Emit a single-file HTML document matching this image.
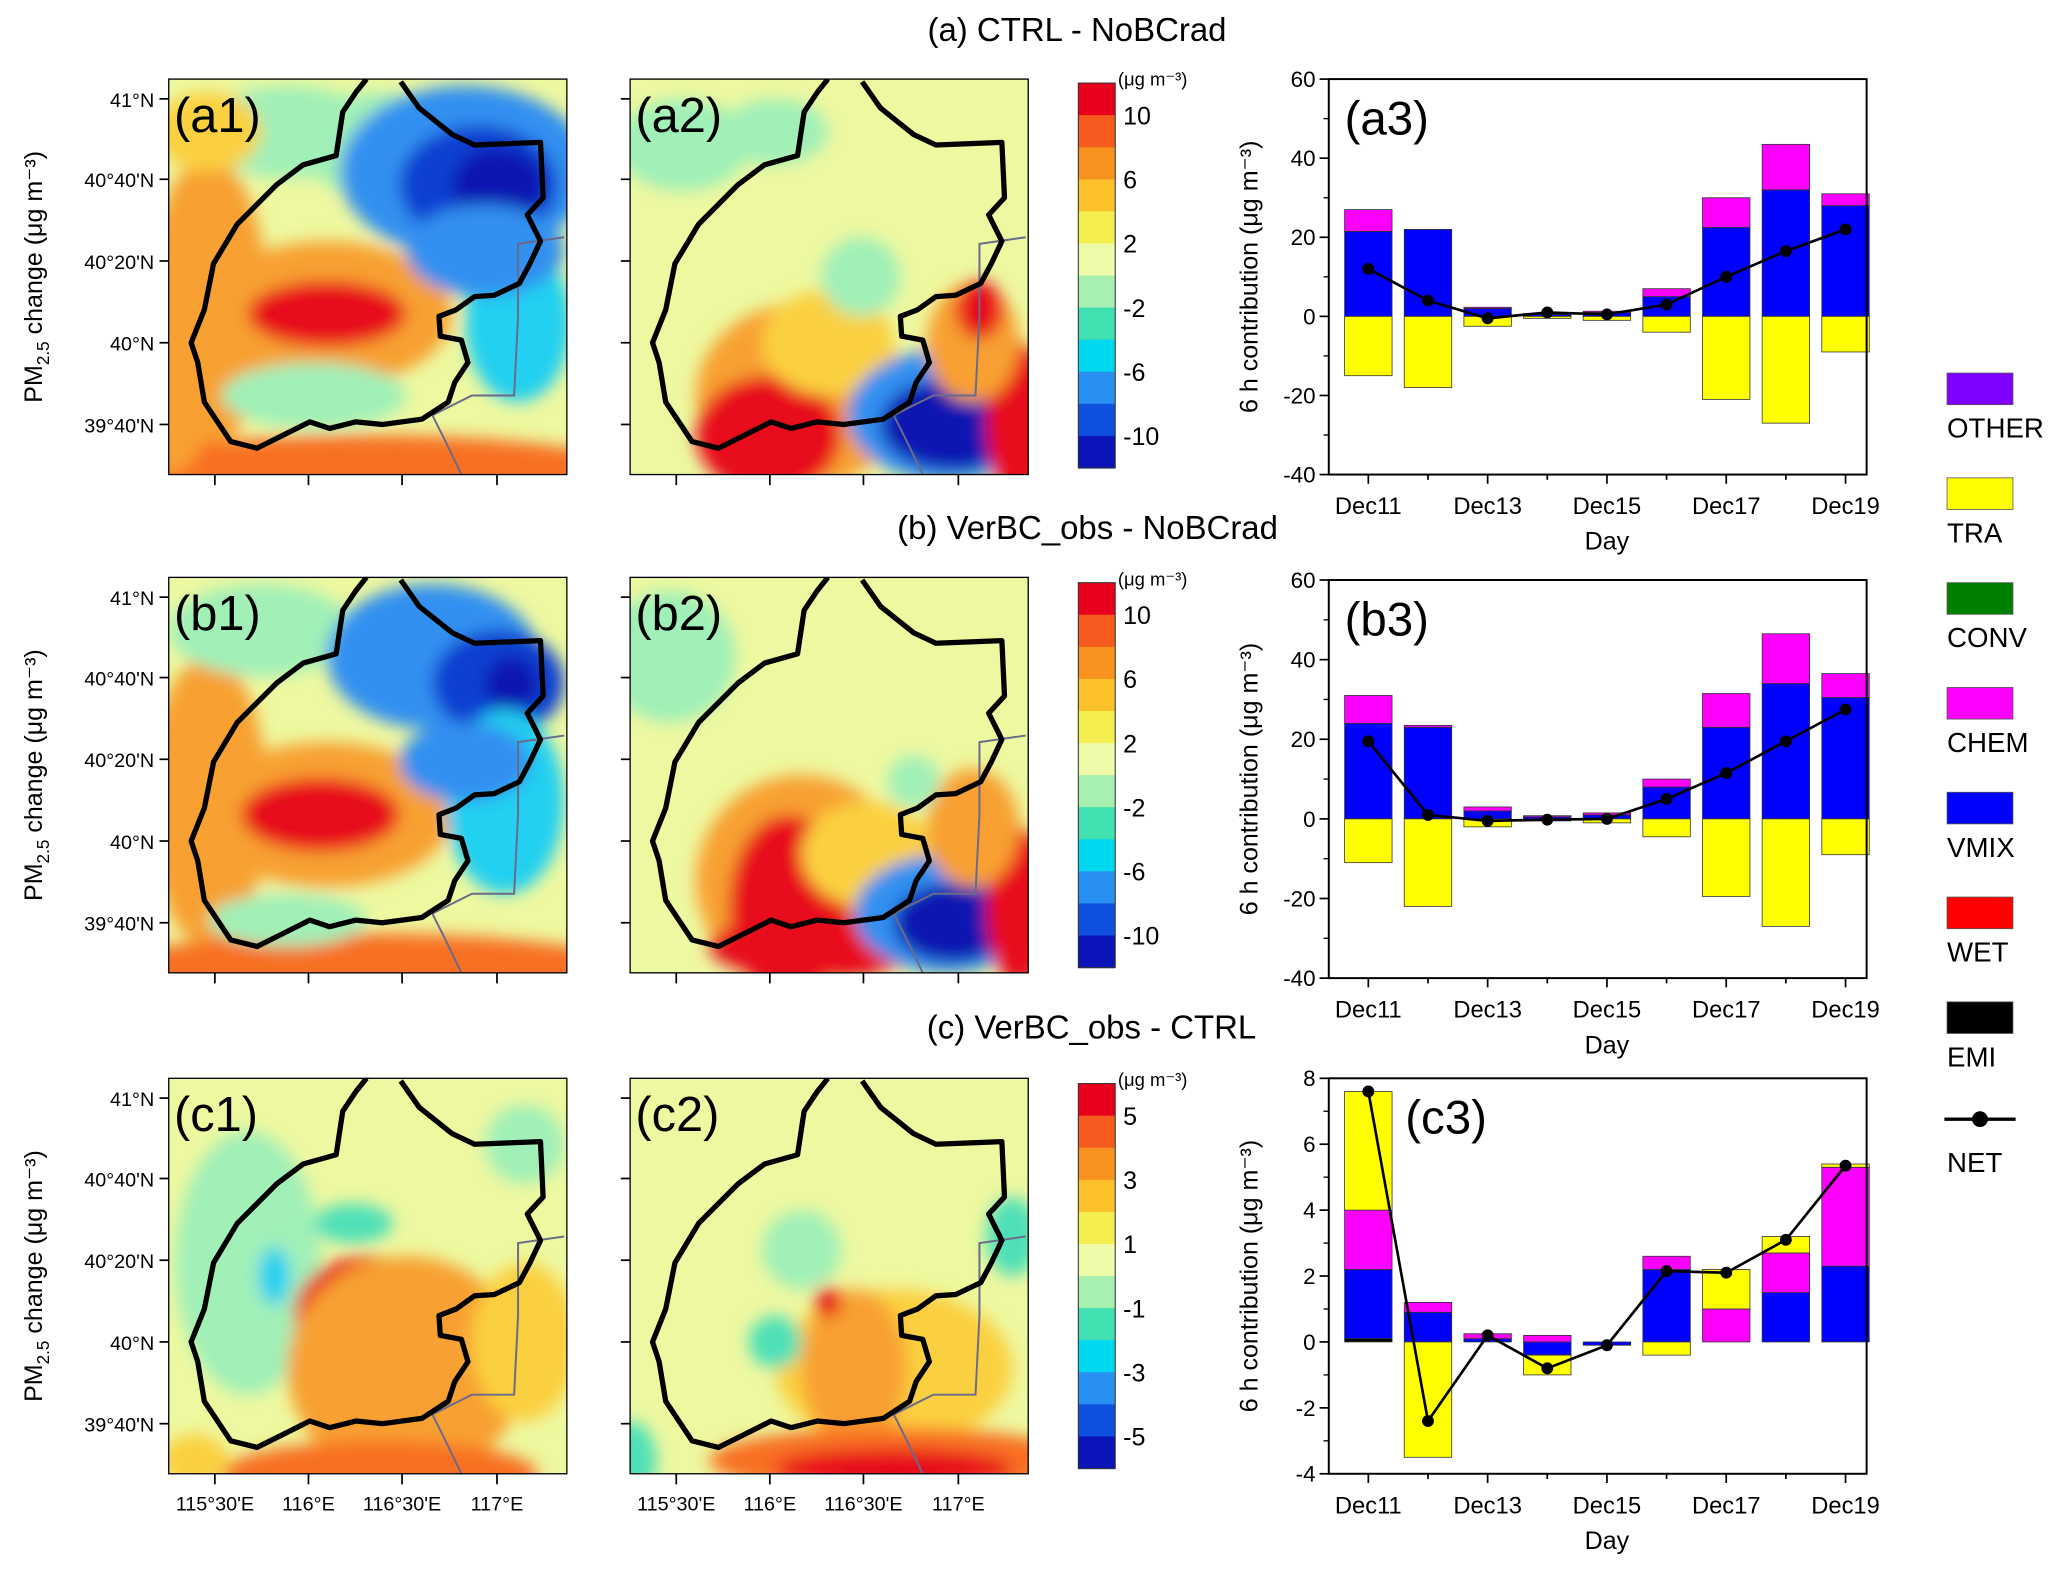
<!DOCTYPE html>
<html><head><meta charset="utf-8"><style>
html,body{margin:0;padding:0;background:#fff;}
svg{display:block;font-family:"Liberation Sans",Arial,sans-serif;}
</style></head><body>
<svg id="root" width="2067" height="1570" viewBox="0 0 1568 1191" preserveAspectRatio="none" xmlns="http://www.w3.org/2000/svg">
<defs><filter id="bl" x="-20%" y="-20%" width="140%" height="140%"><feGaussianBlur stdDeviation="6"/></filter></defs>
<text x="817" y="31" font-size="25" text-anchor="middle">(a) CTRL - NoBCrad</text>
<text x="825" y="409" font-size="25" text-anchor="middle">(b) VerBC_obs - NoBCrad</text>
<text x="828" y="788" font-size="25" text-anchor="middle">(c) VerBC_obs - CTRL</text>
<g id="maps"></g>
<g id="charts"></g>
<g id="legend"></g>
</svg>
<script>
// ---- chart data ----
const days = ["Dec11","Dec12","Dec13","Dec14","Dec15","Dec16","Dec17","Dec18","Dec19"];
const dayLabels = ["Dec11","","Dec13","","Dec15","","Dec17","","Dec19"];
const a3_emi  = [0,0,0,0,0,0,0,0,0];
const a3_vmix = [21.5,22,2,0.5,1,5,22.5,32,28];
const a3_chem = [5.5,0,0.3,0.2,0.3,2,7.5,11.5,3];
const a3_tra  = [-15,-18,-2.5,-0.5,-1,-4,-21,-27,-9];
const a3_net  = [12,4,-0.5,1,0.5,3,10,16.5,22];
const a3_ticks = [-40,-20,0,20,40,60];
const b3_emi  = [0,0,0,0,0,0,0,0,0];
const b3_vmix = [24,23,2,0.5,1,8,23,34,30.5];
const b3_chem = [7,0.5,1,0.3,0.5,2,8.5,12.5,6];
const b3_tra  = [-11,-22,-2,-0.5,-1,-4.5,-19.5,-27,-9];
const b3_net  = [19.5,1,-0.5,-0.2,0,5,11.5,19.5,27.5];
const b3_ticks = [-40,-20,0,20,40,60];
const c3_emi  = [0.1,0,0,0,0,0,0,0,0];
const c3_vmix = [2.1,0.9,0.1,-0.4,-0.1,2.2,0,1.5,2.3];
const c3_chem = [1.8,0.3,0.15,0.2,0,0.4,1.0,1.2,3.0];
const c3_tra  = [3.6,-3.5,0,-0.6,0,-0.4,1.2,0.5,0.1];
const c3_net  = [7.6,-2.4,0.2,-0.8,-0.1,2.15,2.1,3.1,5.35];
const c3_ticks = [-4,-2,0,2,4,6,8];

const NS="http://www.w3.org/2000/svg";
function mk(tag,attrs,parent,txt){const e=document.createElementNS(NS,tag);for(const k in attrs)e.setAttribute(k,attrs[k]);if(txt!==undefined)e.textContent=txt;parent.appendChild(e);return e;}

function chart(id,x0,y0,x1,y1,ymin,ymax,ticks,emi,vmix,chem,tra,net,lblX){
  const g=mk('g',{},document.getElementById('charts'));
  
  
  const ys=v=>y1-(v-ymin)/(ymax-ymin)*(y1-y0);
  const step=(x1-x0-46)/8;
  const xs=i=>x0+30+i*step;
  const bw=36;
  const comps=[[emi,'#000000','emi'],[vmix,'#0000ff','vmix'],[chem,'#ff00ff','chem'],[tra,'#ffff00','tra']];
  for(let i=0;i<days.length;i++){
    let pos=0,neg=0;
    for(const [arr,col,nm] of comps){
      const v=arr[i]; if(!v) continue;
      let a,b;
      if(v>0){a=pos;b=pos+v;pos=b;}else{a=neg;b=neg+v;neg=b;}
      const r=mk('rect',{x:xs(i)-bw/2,y:Math.min(ys(a),ys(b)),width:bw,height:Math.abs(ys(a)-ys(b)),fill:col,stroke:'#333','stroke-width':0.6},g);
      
      
    }
  }
  let d='';net.forEach((v,i)=>{d+=(i?'L':'M')+xs(i)+','+ys(v);});
  const ln=mk('path',{d:d,fill:'none',stroke:'#000','stroke-width':2},g);
  
  
  net.forEach((v,i)=>{const c=mk('circle',{cx:xs(i),cy:ys(v),r:4.5,fill:'#000'},g);
    
    });
  mk('rect',{x:x0,y:y0,width:x1-x0,height:y1-y0,fill:'none',stroke:'#000','stroke-width':1.5},g);
  ticks.forEach(t=>{mk('line',{x1:x0-7,x2:x0,y1:ys(t),y2:ys(t),stroke:'#000','stroke-width':1.3},g);
    const tl=mk('text',{x:x0-10,y:ys(t)+6,'font-size':17,'text-anchor':'end'},g,String(t));
    
    });
  for(let k=0;k<ticks.length-1;k++){const m=(ticks[k]+ticks[k+1])/2;mk('line',{x1:x0-4,x2:x0,y1:ys(m),y2:ys(m),stroke:'#000'},g);}
  days.forEach((dd,i)=>{mk('line',{x1:xs(i),x2:xs(i),y1:y1,y2:y1+(dayLabels[i]?7:4),stroke:'#000','stroke-width':1.3},g);
    if(dayLabels[i]){const tl=mk('text',{x:xs(i),y:y1+30,'font-size':18,'text-anchor':'middle'},g,dayLabels[i]);
      
      }});
  const dl=mk('text',{x:xs(4),y:y1+57,'font-size':19,'text-anchor':'middle'},g,'Day');
  
  
  const yl=mk('text',{transform:`translate(${x0-54},${(y0+y1)/2}) rotate(-90)`,'font-size':19,'text-anchor':'middle'},g,'6 h contribution (μg m⁻³)');
  
  
  const pl=mk('text',{x:lblX,y:y0+42,'font-size':36},g,'('+id+')');
  
  
}
chart('a3',1008,60,1416,360,-40,60,a3_ticks,a3_emi,a3_vmix,a3_chem,a3_tra,a3_net,1020);
chart('b3',1008,440,1416,742,-40,60,b3_ticks,b3_emi,b3_vmix,b3_chem,b3_tra,b3_net,1020);
chart('c3',1008,818,1416,1118,-4,8,c3_ticks,c3_emi,c3_vmix,c3_chem,c3_tra,c3_net,1066);

// ---- legend ----
const legNames=["OTHER","TRA","CONV","CHEM","VMIX","WET","EMI"];
const legCols=["#8000ff","#ffff00","#008000","#ff00ff","#0000ff","#ff0000","#000000"];
const LG=document.getElementById('legend');
legNames.forEach((n,i)=>{const y=283+i*79.5;
  const r=mk('rect',{x:1477,y:y,width:50,height:24,fill:legCols[i],stroke:'#555','stroke-width':0.6},LG);
  
  
  mk('text',{x:1477,y:y+49,'font-size':21},LG,n);});
mk('line',{x1:1475,x2:1529,y1:849,y2:849,stroke:'#000','stroke-width':2.5},LG);
mk('circle',{cx:1502,cy:849,r:6,fill:'#000'},LG);
mk('text',{x:1477,y:889,'font-size':21},LG,'NET');

// ---- maps ----
const M=document.getElementById('maps');
const outline="M176,2 L190,22 L215,42 L232,50 L282,48 L284,90 L272,103 L282,123 L274,140 L266,155 L247,164 L232,165 L218,175 L205,180 L206,195 L222,198 L227,215 L217,230 L212,245 L192,258 L162,262 L142,260 L122,265 L107,260 L87,270 L67,280 L47,275 L27,245 L22,215 L17,200 L27,175 L34,140 L52,110 L82,80 L102,65 L127,58 L132,25 L142,10 L150,0";
const prov="M300,120 L265,125 L265,180 L262,240 L230,240 L200,255 L210,275 L222,300";
function map(name,x,y,blobs,base){
  const g=mk('g',{transform:`translate(${x},${y})`},M);
  
  
  const cid='c'+name;
  const cp=mk('clipPath',{id:cid},g);mk('rect',{x:0,y:0,width:302,height:300},cp);
  const inner=mk('g',{'clip-path':`url(#${cid})`},g);
  mk('rect',{x:0,y:0,width:302,height:300,fill:base},inner);
  const bg=mk('g',{filter:'url(#bl)'},inner);
  blobs.forEach(b=>mk('ellipse',{cx:b[0],cy:b[1],rx:b[2],ry:b[3],fill:b[4]},bg));
  mk('path',{d:prov,fill:'none',stroke:'#6a6a8a','stroke-width':1.5},inner);
  const o=mk('path',{d:outline,fill:'none',stroke:'#000','stroke-width':4,'stroke-linejoin':'round'},inner);
  
  
  mk('rect',{x:0,y:0,width:302,height:300,fill:'none',stroke:'#000','stroke-width':1},g);
  [35,106,177,249].forEach(t=>mk('line',{x1:t,x2:t,y1:300,y2:308,stroke:'#000','stroke-width':1.3},g));
  [15,76,138,200,262].forEach(t=>mk('line',{x1:-7,x2:0,y1:t,y2:t,stroke:'#000','stroke-width':1.3},g));
  const pl=mk('text',{x:4,y:40,'font-size':37},g,'('+name+')');
  
  
  return g;
}
const Y="#eef8a0",R="#e8101c",O="#f87020",OR="#f8a030",YO="#fbd040",G="#a0f0b8",T="#50e0b8",C="#20d0f0",B="#3090f0",DB="#1040d0",NB="#0818b0";
const a1=[[30,170,45,110,OR],[150,305,220,35,O],[0,250,30,50,OR],[120,178,95,55,OR],[120,178,60,25,R],[110,240,70,25,G],[90,40,70,35,G],[160,50,60,40,G],[225,70,95,65,B],[235,80,60,45,DB],[250,80,35,28,NB],[265,185,40,60,C],[240,130,60,35,B],[30,40,40,30,YO]];
const a2=[[40,50,50,35,G],[110,40,40,25,G],[130,240,80,70,OR],[105,270,55,45,R],[150,200,50,40,YO],[240,255,75,50,B],[245,262,55,35,NB],[295,260,25,60,R],[260,200,35,45,OR],[265,175,18,22,R],[175,150,30,30,G]];
const b1=[[30,170,45,110,OR],[150,305,220,35,O],[120,180,95,55,OR],[115,180,60,28,R],[90,260,60,20,G],[70,40,70,35,G],[200,60,80,55,B],[250,80,50,40,DB],[260,80,20,20,NB],[255,170,45,70,C],[225,140,50,30,B]];
const b2=[[30,60,50,50,G],[130,230,80,80,OR],[120,250,45,70,R],[140,280,80,25,R],[180,210,50,40,YO],[240,255,70,45,B],[245,262,45,30,NB],[295,250,25,60,R],[260,190,35,45,OR],[215,155,20,20,G]];
const c1=[[60,140,55,100,G],[80,150,12,22,C],[140,110,30,15,T],[150,180,55,45,R],[180,220,90,85,OR],[160,300,120,25,O],[270,200,40,60,YO],[270,50,30,30,G],[20,290,25,20,YO]];
const c2=[[200,220,90,60,YO],[170,220,40,60,OR],[200,290,140,25,O],[200,296,90,15,R],[130,130,30,30,G],[110,200,20,20,T],[290,120,20,30,T],[0,290,20,30,T],[150,170,10,12,R]];
map('a1',128,60,a1,Y);map('a2',478,60,a2,Y);
map('b1',128,438,b1,Y);map('b2',478,438,b2,Y);
map('c1',128,818,c1,Y);map('c2',478,818,c2,Y);

// map axis labels
const latLbl=["41°N","40°40'N","40°20'N","40°N","39°40'N"];
const latOff=[15,76,138,200,262];
[60,438,818].forEach(y0=>{latLbl.forEach((l,i)=>mk('text',{x:117,y:y0+latOff[i]+6,'font-size':15,'text-anchor':'end'},M,l));
  const t=mk('text',{transform:`translate(32,${y0+150}) rotate(-90)`,'font-size':19,'text-anchor':'middle'},M);
  
  
  mk('tspan',{},t,'PM');mk('tspan',{'font-size':13,dy:5},t,'2.5');mk('tspan',{dy:-5},t,' change (μg m⁻³)');});
const lonLbl=["115°30'E","116°E","116°30'E","117°E"];
[128,478].forEach(x0=>[35,106,177,249].forEach((o,i)=>mk('text',{x:x0+o,y:1146,'font-size':15,'text-anchor':'middle'},M,lonLbl[i])));

// colorbars
const cbCols=["#e8001c","#f55a1e","#f7921e","#fbc02a","#f5ee50","#eefaa8","#a8f0b0","#40e0b0","#00d8f0","#2890f0","#1050e0","#0a14b8"];
function cbar(y0,labels){
  const g=mk('g',{},M);
  
  
  const h=292/12;
  cbCols.forEach((c,i)=>mk('rect',{x:818,y:y0+i*h,width:28,height:h+0.5,fill:c},g));
  mk('rect',{x:818,y:y0,width:28,height:292,fill:'none',stroke:'#333','stroke-width':0.8},g);
  labels.forEach((l,i)=>mk('text',{x:852,y:y0+h*(1+2*i)+7,'font-size':19},g,l));
  mk('text',{x:848,y:y0+2,'font-size':14},g,'(μg m⁻³)');
}
cbar(63,["10","6","2","-2","-6","-10"]);
cbar(442,["10","6","2","-2","-6","-10"]);
cbar(822,["5","3","1","-1","-3","-5"]);
</script>
</body></html>
